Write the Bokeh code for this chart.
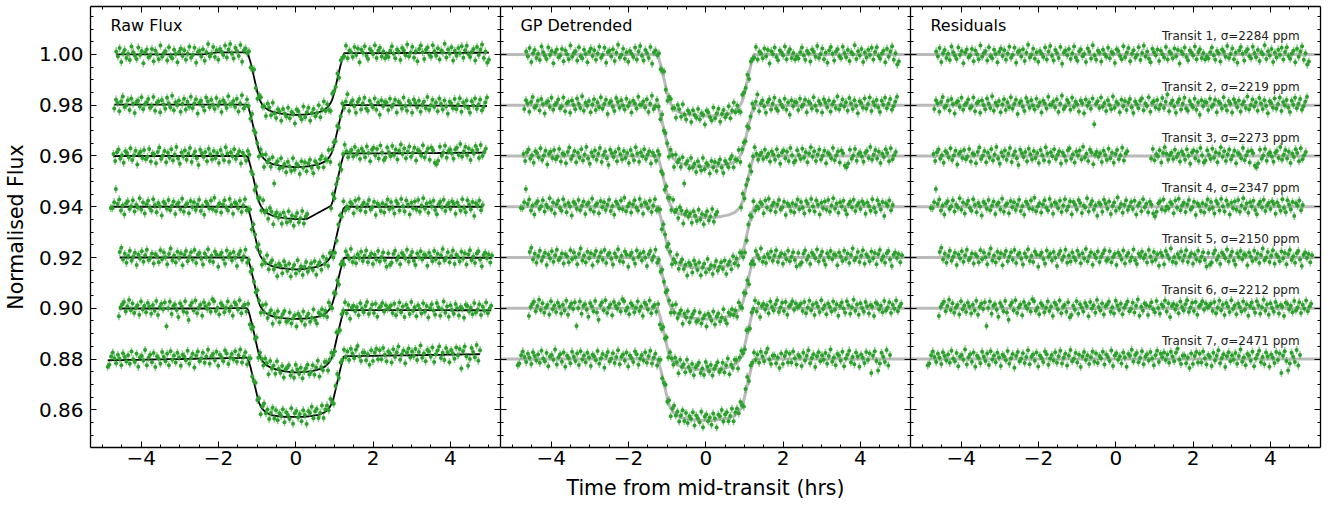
import numpy as np
from bokeh.plotting import figure
from bokeh.layouts import row
from bokeh.models import Range1d, LinearAxis, SingleIntervalTicker, Label, CustomJSTickFormatter
from bokeh.core.properties import value
from bokeh.embed import file_html
from bokeh.resources import INLINE

# ---------------- data ----------------
OFFSETS = [1.00, 0.98, 0.96, 0.94, 0.92, 0.90, 0.88]
T_START = [-4.65, -4.70, -4.72, -4.79, -4.56, -4.58, -4.87]
T_END = [5.00, 4.95, 4.92, 4.84, 5.08, 5.06, 4.77]
SIGMA_PPM = [2284, 2219, 2273, 2347, 2150, 2212, 2471]
GAP_TRANSIT = 3
GAP = [0.32, 0.88]
ERR = 0.0016

# transit model (depth, units of 1e-4) against |time from mid-transit| (hrs)
MODEL_T = [0.0, 0.2, 0.4, 0.6, 0.75, 0.85, 0.92, 0.97, 1.03, 1.10, 1.17, 1.22, 1.25]
MODEL_DEPTH = [242, 241, 238, 232, 222, 208, 192, 172, 132, 85, 40, 14, 0]

# GP trend knots per transit (units of 1e-4)
TREND1_T = [-4.65, -2.4, -2.05, -1.25, 0.0, 1.25, 5.0]
TREND1_V = [0, 0, 8, 8, 4, 5, 7]
TREND2_T = [-4.7, -1.25, 0.0, 1.25, 4.95]
TREND2_V = [2, 2, -2, 1, -3]
TREND3_T = [-4.72, -1.25, -0.5, 0.3, 0.9, 1.25, 3.0, 4.92]
TREND3_V = [0, 0, -4, -8, -3, 10, 11, 13]
TREND4_T = [-4.79, -1.25, 0.0, 1.25, 4.84]
TREND4_V = [0, 0, -5, 0, 0]
TREND5_T = [-4.56, -1.25, 0.0, 1.25, 5.08]
TREND5_V = [0, 0, 0, -1, -1]
TREND6_T = [-4.58, -2.3, -1.25, 0.0, 1.25, 5.06]
TREND6_V = [-1, -1, 1, -11, -7, -8]
TREND7_T = [-4.87, -1.5, 0.0, 1.25, 4.77]
TREND7_V = [-5, 4, 14, 11, 19]

# residuals per transit (units of 1e-4), in time order
RESID1 = [12, -8, 25, -30, 5, 18, -14, 3, -22, 31, 9, -5, -18, 27, -2, 14, -35, 8, 20, -11,
          -4, 22, -27, 16, 1, -19, 35, -9, 6, 13, -24, 28, -7, -15, 19, 2, -31, 11, 24, -6,
          17, -21, 4, 30, -13, -2, 26, -33, 10, 15, -8, 21, -26, 7, 38, -12, -1, 23, -17, 9,
          -29, 14, 3, -10, 27, -20, 12, 33, -5, -24, 18, 6, -14, 29, -37, 8, 16, -3, 22, -18,
          5, 31, -12, -25, 13, 20, -7, 2, -30, 24, 11, -16, 36, -4, -21, 15, 7, -28, 19, 1,
          -9, 26, -15, 10, 4, -34, 21, 14, -6, -19, 32, -11, 8, 25, -27, 3, 17, -13, -2, 28,
          -22, 6, 34, -8, 12, -17, -31, 23, 9, -3, 20, -26, 15, 1, -12, 29, -20, 11, 5, -15,
          24, -7, 18, -36, 13, 2, 27, -10, -23, 16, 8, -4, 31, -19, 10, 21, -14, 6, -20, -8,
          -16, 9, 27, -3, -21, 14, 5, -28, 20, 11, -9, 33, -14, 2, 24, -19, 7, -33, 16, 29,
          3, -24, 12, 21, -7, -15, 30, 6, -11, 18, -26, 9, 1, 36, -18, 13, -4, 22, -30, 8,
          -12, 19, -2, 26, -20, 10, 28, -6, -17, 4, 15, -31, 23, -9, 12, 32, -21, 5, -40, -28]
RESID2 = [-15, 20, 7, -26, 13, 32, -9, -3, 18, -21, 25, 4, -33, 11, 16, -7, 29, -18, 2, 9,
          23, -12, -5, 30, -24, 8, 14, -30, 19, 1, -16, 27, 6, -11, 35, -22, 10, -2, 17, -28,
          3, 24, -19, 12, -8, 31, -14, 5, 22, -35, 9, 16, -6, -23, 28, 13, -10, 20, -1, -17,
          26, -4, 11, -29, 18, 7, -13, 33, 2, 2, 15, -9, 24, -27, 6, 37, -15, -5, 21, 10,
          -18, 29, -7, 14, 3, -25, 19, 8, -32, 23, -2, 12, -14, 27, -75, 5, 16, -11, 30, -6,
          9, -23, 20, 1, -16, 34, -10, 13, 6, -28, 22, -4, 17, -19, 11, 25, -8, -31, 15, 4,
          -12, 18, 27, -20, 7, -3, 31, -26, 10, 16, -9, 21, -15, 2, 28, -11, 14, 42, -24, 8,
          19, -5, -30, 12, 24, -17, 6, 29, -13, -22, 17, 3, -8, 26, -18, 11, -38, 20, -4, 13,
          11, -19, 26, -6, 3, 22, -28, 14, 8, -13, 31, -2, -21, 17, 6, -29, 24, 10, -8, 19,
          -25, 4, 15, -11, 34, -17, 1, 23, -5, 12, -22, 28, 7, -15, 20, -3, -32, 16, 9, -10,
          27, -14, 5, 30, -23, 13, -1, 21, -9, -27, 18, 2, 29, -12, 6, 25, -18, -4, 14, 33]
RESID3 = [8, -20, 15, 26, -11, 3, -27, 19, 12, -6, 30, -16, 2, 21, -34, 9, 17, -8, 24, -13,
          -3, 28, -22, 10, 5, -29, 16, 33, -12, 1, 20, -25, 13, -7, 27, -18, 6, 35, -10, -31,
          14, -2, 22, -15, 9, 31, -24, 4, 18, -9, -36, 25, 11, -4, 16, -21, 29, 7, -14, 20,
          -8, 12, -28, 24, 3, -17, 34, 10, -23, 15, -1, 27, -12, 6, 19, -30, 13, 1, -19, 23,
          30, -11, 7, -26, 18, 2, 22, -14, 36, -6, 9, -20, 25, 14, -33, 5, 17, -3, 11, -24,
          21, 4, -16, 29, -9, 13, -27, 8, 24, -13, 3, 32, -18, 10, 19, -7, -22, 15, 6, -15,
          -5, 26, 11, -21, 16, -30, 2, 20, -10, 28, -17, 7, -1, 23, -26, 12, 34, 9, -15, 4,
          13, -12, 25, -4, 9, -22, 18, 6, -15, 27, 1, -31, 14, 22, -9, 17, -20, 31, 3, -26,
          -18, 23, 4, -12, 29, -7, 15, -25, 10, 34, -3, 19, -20, 6, 26, -14, 1, 21, -29, 12,
          7, -9, 31, -17, 3, 18, -26, 22, 11, -38, -44, -30, 25, -11, 2, 28, -19, 8, 14, -2,
          -23, 13, 20, -8, 35, -15, 5, 24, -10, 17, -28, 9, -4, 27, 12, -21, 30, -13, 3, 16]
RESID4 = [-5, -6, 18, 70, 11, 29, -15, 5, -31, 14, 22, -9, 2, 26, -19, 8, -3, 33, -12, 17,
          -27, 10, 24, -5, -16, 30, 7, -22, 15, 1, -34, 19, 12, -8, 27, -14, 4, 21, -29, 9,
          16, -11, 32, -20, 6, 13, -26, 23, -2, 18, -13, 8, 28, -17, 3, -32, 20, 11, -7, 25,
          -10, 35, -18, 2, 14, -23, 9, 26, -4, -15, 31, 7, -28, 17, 12, -6, 24, -21, 5, 30,
          -14, 1, 22, -30, 19, 8, -11, 27, 15, -25, 4, -3, 33, -19, 10, 23, -12, 6, -35, 16,
          9, -20, 28, 13, -8, 21, -29, 3, 17, -16, 36, -5, 11, -24, 7, 26, -13, 2, 19, -9,
          24, -31, 5, 15, -18, 30, -2, 12, -22, 20, 8, -27, -38, -20, 14, 22, -10, 29, -15, 1,
          -7, 18, 11, -26, 25, -4, 32, -14, 6, 16, -21, 9, 27, -11, -3, 20, -33, 13, 4, -17,
          14, -23, 7, 29, -10, 19, -4, -27, 23, 12, -15, 31, 2, -19, 25, 8, -31, 16, -6, 21,
          -12, 27, -20, 5, 33, -8, 13, -24, 18, 1, 24, -13, -30, 10, 20, -3, 28, -17, 6, 15,
          -9, 22, 11, -28, 17, 3, -16, 30, -5, -22, 26, 9, -11, 19, -36, 14, 4, 25, -14, 7]
RESID5 = [22, 38, -8, 15, -21, 6, 27, -13, 3, 19, -30, 12, -4, 25, -17, 9, 31, -10, -2, 16,
          -24, 13, 5, -19, 29, -7, 20, 1, -27, 14, 35, -12, 8, -20, 23, -3, 17, -31, 10, 26,
          -15, 4, 21, -9, 30, -22, 11, 18, -5, -28, 16, 2, 33, -14, 7, -18, 24, 12, -36, 9,
          19, -6, -25, 28, 3, 15, -12, 22, -1, -33, 13, 26, -10, 5, 31, -21, 8, -16, 20, 1,
          -11, 27, 10, -23, 17, -4, 34, -15, 6, 21, -29, 12, -2, 24, -18, 3, 16, 29, -13, -7,
          25, -19, 2, 14, -30, 20, 9, -8, 28, -24, 7, 18, -14, 1, 32, -11, -26, 15, 6, 23,
          -3, 11, -20, 30, 4, -16, 22, -9, 13, -32, 19, 7, -27, 26, 10, -5, 35, -17, 2, -22,
          14, -1, 24, -13, 8, 29, -18, 5, 17, -25, 12, -7, 27, -15, 3, 21, -10, -35, 18, -28,
          -20, 15, 28, -9, 6, -26, 19, 11, -3, 32, -16, 8, 23, -12, -29, 17, 2, 26, -7, 13,
          9, -31, 20, 4, -14, 27, -6, 16, -22, 10, 35, -11, -1, 22, -18, 7, 29, -25, 12, 3,
          -15, 24, -4, 18, -27, 13, 30, -10, 5, -21, 17, 26, -8, -33, 11, 20, -2, 14, -19, 9]
RESID6 = [-30, 5, 17, 26, -12, 9, 34, -7, 20, -18, 3, 13, -25, 28, -4, 11, -15, 22, 7, -21,
          14, -9, 30, -26, 6, 19, -3, 24, -70, 1, 27, -22, 10, 16, -6, -33, 21, 8, -12, 29,
          -17, -45, 12, 23, -8, 32, -19, 4, 15, -28, 25, 9, -2, 18, -13, 36, 28, -10, 3, -24,
          20, 11, -16, 2, 27, -11, 7, -30, 22, 14, -5, 31, -20, 6, 13, -14, 24, -35, -27, 10,
          -6, 28, -22, 16, 3, -13, 21, 9, -31, 25, -1, 12, -18, 33, 5, -9, 19, -25, 8, 15,
          26, -14, 4, -21, 30, 11, -7, 18, -24, 2, 14, 27, -12, -3, 22, -17, 10, 35, -29, 6,
          -10, 19, 13, -27, 8, 24, -4, -16, 29, 1, -22, 15, 7, 31, -13, 20, -34, 9, 17, -5,
          12, -20, 27, 5, -9, 16, 32, -15, 3, 22, -11, 25, -26, 8, 14, 28, -6, 19, 4, 10,
          18, -11, 25, -20, 3, 30, -8, 14, -27, 21, 7, -15, 32, -3, 11, -24, 19, 5, -13, 27,
          -6, 16, -29, 9, 23, -1, -18, 28, 12, -22, 4, 34, -10, 15, -26, 20, 1, -14, 25, 8,
          -21, 13, 6, -30, 22, 17, -5, 10, -16, 29, -9, 3, 24, -19, 14, -2, 31, -12, 7, 18]
RESID7 = [-25, -18, 15, 30, 8, -12, 21, 5, -20, 27, 12, -6, 18, -15, 33, 2, -9, 24, -28, 10,
          16, -3, 38, -22, 7, 19, -11, 26, -30, 13, 4, -17, 29, 9, -8, 22, -24, 31, -2, 14,
          -13, 25, 6, -27, 17, 11, -5, 32, -19, 3, 20, -34, 12, 28, -10, 1, 23, -16, 8, 35,
          -21, 9, 18, -7, 26, -29, 14, 4, -12, 30, 19, -23, 2, 16, -6, 27, -15, 11, 33, -18,
          5, 21, -26, 13, 36, -9, 1, 24, -14, 17, -31, 10, 28, -4, 15, -20, 7, 30, -11, 22,
          -16, 12, 3, 29, -22, 18, 8, -8, 34, -27, 14, 23, -3, 11, -18, 26, 6, -30, 20, 13,
          37, -10, 16, 24, -13, 5, 31, -21, 9, 19, -6, 28, 2, -25, 15, 33, -12, 21, 7, 26,
          -4, 18, -15, 29, 10, -9, 25, 40, -2, -20, 14, 14, -17, 6, -35, 22, -20, 12, 28, -14,
          21, -14, 30, 3, -22, 16, 9, -27, 25, -6, 13, 35, -17, 4, 19, -31, 11, 27, -9, 15,
          -3, 24, -19, 12, 38, -11, 6, -25, 20, 14, -7, 29, -28, 2, 17, 33, -13, 8, -21, 26,
          10, -30, 18, 5, -16, 28, -4, 22, -55, 13, 31, -8, -45, -18, 25, 9, -12, 36, -26, 16]

RESIDS = [RESID1, RESID2, RESID3, RESID4, RESID5, RESID6, RESID7]
TRENDS = [(TREND1_T, TREND1_V), (TREND2_T, TREND2_V), (TREND3_T, TREND3_V), (TREND4_T, TREND4_V),
          (TREND5_T, TREND5_V), (TREND6_T, TREND6_V), (TREND7_T, TREND7_V)]
PANEL_TITLES = ["Raw Flux", "GP Detrended", "Residuals"]
X_TITLE = "Time from mid-transit (hrs)"
Y_TITLE = "Normalised Flux"

# ---------------- style ----------------
GREEN = "#2ca02c"
FONT = "DejaVu Sans"
X0, X1 = -5.315, 5.30
Y0, Y1 = 0.84514, 1.0189
TICK_FONT = "20px"
TITLE_FONT = "20.5px"


def tick_style(ax):
    ax.major_tick_in = 6
    ax.major_tick_out = 0
    ax.minor_tick_in = 3
    ax.minor_tick_out = 0
    ax.axis_line_width = 1.3
    ax.axis_line_color = "black"
    ax.major_tick_line_color = "black"
    ax.minor_tick_line_color = "black"
    ax.major_tick_line_width = 1
    ax.minor_tick_line_width = 1
    ax.major_label_text_font = FONT
    ax.major_label_text_font_size = TICK_FONT
    ax.major_label_text_color = "black"


def hide_labels(ax):
    ax.formatter = CustomJSTickFormatter(code="return '';")
    ax.major_label_text_font_size = "0px"
    ax.major_label_standoff = 0


def make_fig(bl, br, show_y):
    p = figure(frame_width=410, frame_height=441,
               x_range=Range1d(X0, X1), y_range=Range1d(Y0, Y1),
               output_backend="svg", toolbar_location=None,
               x_axis_location=None, y_axis_location=None,
               min_border_top=6, min_border_bottom=40,
               min_border_left=bl, min_border_right=br)
    p.grid.visible = False
    p.outline_line_color = None
    p.background_fill_color = "white"
    p.border_fill_color = "white"

    xb = LinearAxis(ticker=SingleIntervalTicker(interval=2, num_minor_ticks=4))
    tick_style(xb)
    xb.formatter = CustomJSTickFormatter(
        code="return (tick < 0 ? '\u2212' : '') + Math.abs(tick).toFixed(0);")
    xb.major_label_standoff = 3
    p.add_layout(xb, "below")

    yl = LinearAxis(ticker=SingleIntervalTicker(interval=0.02, num_minor_ticks=4))
    tick_style(yl)
    if show_y:
        yl.formatter = CustomJSTickFormatter(code="return tick.toFixed(2);")
        yl.major_label_standoff = 7
    else:
        hide_labels(yl)
    p.add_layout(yl, "left")

    xt = LinearAxis(ticker=SingleIntervalTicker(interval=2, num_minor_ticks=4))
    tick_style(xt)
    hide_labels(xt)
    p.add_layout(xt, "above")

    yr = LinearAxis(ticker=SingleIntervalTicker(interval=0.02, num_minor_ticks=4))
    tick_style(yr)
    hide_labels(yr)
    p.add_layout(yr, "right")
    return p, xb, yl


p1, xb1, yl1 = make_fig(89, 0, True)
p2, xb2, yl2 = make_fig(0, 0, False)
p3, xb3, yl3 = make_fig(0, 10, False)

yl1.axis_label = Y_TITLE
yl1.axis_label_text_font = FONT
yl1.axis_label_text_font_size = TITLE_FONT
yl1.axis_label_text_font_style = "normal"
yl1.axis_label_text_color = "black"
yl1.axis_label_standoff = 8

xb2.axis_label = X_TITLE
xb2.axis_label_text_font = FONT
xb2.axis_label_text_font_size = TITLE_FONT
xb2.axis_label_text_font_style = "normal"
xb2.axis_label_text_color = "black"
xb2.axis_label_standoff = 8

mt = np.array(MODEL_T)
md = np.array(MODEL_DEPTH) * 1e-4
model_x = np.concatenate([[X0 - 0.1], -mt[::-1], mt[1:], [X1 + 0.1]])
model_d = np.concatenate([[0.0], md[::-1], md[1:], [0.0]])

for i in range(7):
    off = OFFSETS[i]
    r = np.array(RESIDS[i]) * 1e-4
    t = np.linspace(T_START[i], T_END[i], len(r))
    if i + 1 == GAP_TRANSIT:
        keep = (t < GAP[0]) | (t > GAP[1])
        t, r = t[keep], r[keep]
    depth = np.interp(np.abs(t), mt, md)
    trend = np.interp(t, TRENDS[i][0], TRENDS[i][1]) * 1e-4
    detr = off - depth + r
    raw = detr + trend
    res = off + r

    p1.line(t, off - depth + trend, line_color="black", line_width=1.8)
    p2.line(model_x, off - model_d, line_color="#8c8c8c", line_width=3, line_alpha=0.6)
    p3.line([X0 - 0.1, X1 + 0.1], [off, off], line_color="#8c8c8c", line_width=3, line_alpha=0.6)

    for p, y in ((p1, raw), (p2, detr), (p3, res)):
        p.segment(x0=t, y0=y - ERR, x1=t, y1=y + ERR, line_color=GREEN,
                  line_alpha=0.55, line_width=1.5)
        p.scatter(t, y, size=4, marker="circle", fill_color=GREEN,
                  line_color=None)

for p, title in zip((p1, p2, p3), PANEL_TITLES):
    p.add_layout(Label(x=-4.80, y=1.0115, text=title, text_font=FONT,
                       text_font_size="16px", text_baseline="alphabetic",
                       text_color="black"))

labels = [f"Transit {i + 1}, \u03c3={s} ppm" for i, s in enumerate(SIGMA_PPM)]
p3.text(x=[4.76] * 7, y=[o + 0.0072 for o in OFFSETS], text=labels,
        text_align="right", text_baseline="alphabetic",
        text_font=value(FONT), text_font_size="12px", text_color="#222222")

layout = row(p1, p2, p3, spacing=0)
open("out.html", "w").write(file_html(layout, INLINE))
